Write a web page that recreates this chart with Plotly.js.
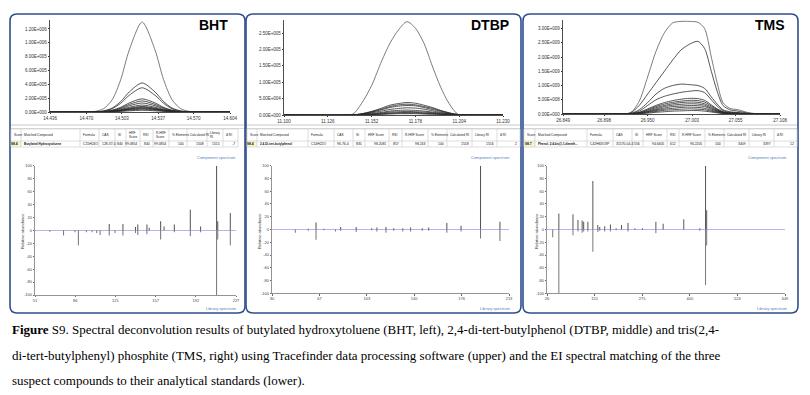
<!DOCTYPE html>
<html><head><meta charset="utf-8">
<script src="https://cdn.plot.ly/plotly-3.0.1.min.js"></script>
<style>html,body{margin:0;padding:0;background:#fff;}#chart{width:810px;height:395px;}</style>
</head><body><div id="chart"></div>
<script>
// ================= DATA =================
// --- BHT chromatogram (intensity in units of 1E5) ---
const bhtTime = [14.436,14.470,14.478,14.486,14.494,14.502,14.510,14.522,14.534,14.542,14.550,14.558,14.566,14.575,14.604];
const bhtIon1  = [0,0,0.09,0.48,1.76,4.68,8.97,13.0,8.97,4.68,1.76,0.48,0.09,0,0];
const bhtIon2  = [0,0,0.03,0.16,0.57,1.51,2.90,4.2,2.90,1.51,0.57,0.16,0.03,0,0];
const bhtIon3  = [0,0,0.02,0.13,0.47,1.26,2.42,3.5,2.42,1.26,0.47,0.13,0.02,0,0];
const bhtIon4  = [0,0,0.01,0.07,0.26,0.68,1.31,1.9,1.31,0.68,0.26,0.07,0.01,0,0];
const bhtIon5  = [0,0,0.01,0.06,0.22,0.58,1.10,1.6,1.10,0.58,0.22,0.06,0.01,0,0];
const bhtIon6  = [0,0,0.01,0.05,0.18,0.47,0.90,1.3,0.90,0.47,0.18,0.05,0.01,0,0];
const bhtIon7  = [0,0,0.01,0.04,0.14,0.36,0.69,1.0,0.69,0.36,0.14,0.04,0.01,0,0];
const bhtIon8  = [0,0,0.01,0.03,0.11,0.29,0.55,0.8,0.55,0.29,0.11,0.03,0.01,0,0];
const bhtIon9  = [0,0,0.01,0.03,0.10,0.25,0.48,0.7,0.48,0.25,0.10,0.03,0.01,0,0];
const bhtIon10 = [0,0,0,0.02,0.08,0.22,0.41,0.6,0.41,0.22,0.08,0.02,0,0,0];
const bhtIon11 = [0,0,0,0.02,0.07,0.18,0.35,0.5,0.35,0.18,0.07,0.02,0,0,0];
const bhtIon12 = [0,0,0,0.01,0.05,0.14,0.28,0.4,0.28,0.14,0.05,0.01,0,0,0];
const bhtIon13 = [0,0,0,0.01,0.03,0.09,0.17,0.25,0.17,0.09,0.03,0.01,0,0,0];
const bhtIons = [bhtIon1,bhtIon2,bhtIon3,bhtIon4,bhtIon5,bhtIon6,bhtIon7,bhtIon8,bhtIon9,bhtIon10,bhtIon11,bhtIon12,bhtIon13];
const bhtYTickVals = [0,2,4,6,8,10,12];
const bhtYTickText = ["0.00E+000","2.00E+005","4.00E+005","6.00E+005","8.00E+005","1.00E+006","1.20E+006"];
const bhtXTickVals = [14.436,14.470,14.503,14.537,14.570,14.604];
const bhtXTickText = ["14.436","14.470","14.503","14.537","14.570","14.604"];

// --- DTBP chromatogram (units of 1E5) ---
const dtbpTime = [11.100,11.140,11.146,11.152,11.158,11.163,11.168,11.173,11.178,11.183,11.188,11.193,11.198,11.204,11.230];
const dtbpIon1 = [0,0,0.35,0.9,1.65,2.2,2.6,2.85,2.65,2.2,1.5,0.85,0.35,0,0];
const dtbpIon2 = [0,0,0.04,0.11,0.21,0.30,0.35,0.38,0.36,0.30,0.23,0.14,0.07,0.01,0];
const dtbpIon3 = [0,0,0.03,0.10,0.18,0.26,0.31,0.33,0.31,0.26,0.20,0.13,0.06,0.01,0];
const dtbpIon4 = [0,0,0.03,0.09,0.16,0.23,0.27,0.29,0.28,0.23,0.17,0.11,0.05,0.01,0];
const dtbpIon5 = [0,0,0.02,0.07,0.12,0.17,0.20,0.22,0.21,0.18,0.13,0.08,0.04,0.01,0];
const dtbpIon6 = [0,0,0.02,0.05,0.08,0.12,0.14,0.15,0.14,0.12,0.09,0.06,0.03,0,0];
const dtbpIon7 = [0,0,0.01,0.03,0.06,0.09,0.10,0.11,0.10,0.09,0.07,0.04,0.02,0,0];
const dtbpIon8 = [0,0,0.01,0.02,0.04,0.06,0.07,0.08,0.08,0.06,0.05,0.03,0.01,0,0];
const dtbpIon9 = [0,0,0.01,0.02,0.03,0.05,0.06,0.06,0.06,0.05,0.04,0.02,0.01,0,0];
const dtbpIon10= [0,0,0,0.01,0.02,0.03,0.04,0.04,0.04,0.03,0.02,0.02,0.01,0,0];
const dtbpIons = [dtbpIon1,dtbpIon2,dtbpIon3,dtbpIon4,dtbpIon5,dtbpIon6,dtbpIon7,dtbpIon8,dtbpIon9,dtbpIon10];
const dtbpYTickVals = [0,0.5,1,1.5,2,2.5];
const dtbpYTickText = ["0.00E+000","5.00E+004","1.00E+005","1.50E+005","2.00E+005","2.50E+005"];
const dtbpXTickVals = [11.100,11.126,11.152,11.178,11.204,11.230];
const dtbpXTickText = ["11.100","11.126","11.152","11.178","11.204","11.230"];

// --- TMS chromatogram (units of 1E9) ---
const tmsTime = [26.849,26.920,26.930,26.940,26.950,26.960,26.970,26.980,26.990,27.000,27.010,27.018,27.026,27.033,27.040,27.048,27.058,27.070,27.085,27.108];
const tmsIon1 = [0,0,0.05,0.45,1.3,2.2,2.85,3.2,3.25,3.25,3.22,3.0,2.0,1.1,0.4,0.2,0.15,0.05,0,0];
const tmsIon2 = [0,0,0.05,0.3,0.7,1.1,1.5,1.9,2.25,2.45,2.55,2.3,1.5,0.8,0.3,0.15,0.1,0.03,0,0];
const tmsIon3 = [0,0,0.02,0.15,0.4,0.7,0.9,1.0,1.05,1.03,1.0,0.9,0.6,0.35,0.15,0.08,0.05,0.01,0,0];
const tmsIon4 = [0,0,0.02,0.1,0.3,0.5,0.62,0.7,0.76,0.8,0.82,0.75,0.5,0.28,0.12,0.06,0.04,0.01,0,0];
const tmsIon5 = [0,0,0.01,0.06,0.18,0.3,0.4,0.47,0.52,0.55,0.54,0.48,0.32,0.18,0.08,0.04,0.02,0.01,0,0];
const tmsIon6 = [0,0,0.01,0.05,0.15,0.26,0.35,0.41,0.45,0.48,0.47,0.42,0.28,0.16,0.07,0.03,0.02,0,0,0];
const tmsIon7 = [0,0,0.01,0.04,0.13,0.22,0.3,0.36,0.4,0.42,0.41,0.36,0.24,0.14,0.06,0.03,0.02,0,0,0];
const tmsIon8 = [0,0,0.01,0.03,0.1,0.18,0.26,0.31,0.34,0.36,0.35,0.31,0.2,0.12,0.05,0.02,0.01,0,0,0];
const tmsIon9 = [0,0,0,0.03,0.08,0.15,0.21,0.26,0.28,0.3,0.29,0.26,0.17,0.1,0.04,0.02,0.01,0,0,0];
const tmsIon10= [0,0,0,0.02,0.07,0.12,0.17,0.2,0.23,0.24,0.23,0.2,0.13,0.08,0.03,0.02,0.01,0,0,0];
const tmsIon11= [0,0,0,0.02,0.05,0.09,0.13,0.15,0.17,0.18,0.17,0.15,0.1,0.06,0.02,0.01,0,0,0,0];
const tmsIon12= [0,0,0,0.01,0.03,0.06,0.08,0.1,0.11,0.12,0.12,0.1,0.07,0.04,0.02,0.01,0,0,0,0];
const tmsIons = [tmsIon1,tmsIon2,tmsIon3,tmsIon4,tmsIon5,tmsIon6,tmsIon7,tmsIon8,tmsIon9,tmsIon10,tmsIon11,tmsIon12];
const tmsYTickVals = [0,0.5,1,1.5,2,2.5,3];
const tmsYTickText = ["0.00E+000","5.00E+008","1.00E+009","1.50E+009","2.00E+009","2.50E+009","3.00E+009"];
const tmsXTickVals = [26.849,26.898,26.950,27.003,27.055,27.108];
const tmsXTickText = ["26.849","26.898","26.950","27.003","27.055","27.108"];

// --- EI spectra: component (up) and library (down), relative abundance % ---
const bhtMz        = [64,76,86,89,96,101,105,108,116,121,128,139,141,149,151,161,164,173,187,196,210,211,222];
const bhtComponent = [0,0,0,0,0,0,0,0,10,0,10,5,9,9,4,14,6,9,32,6,100,14,27];
const bhtLibrary   = [-2,-8,-3,-23,-3,-3,-4,-7,-8,-4,-8,-4,-7,-6,0,-14,0,-3,-9,-3,-100,-14,-23];
const bhtMzTicks   = [51,86.2,121.4,156.6,191.8,227];
const bhtMzLabels  = ["51","86","121","157","192","227"];

const dtbpMz        = [48,58,64,70,79,83,95,107,111,118,124,131,137,146,151,165,176,191,206];
const dtbpComponent = [0,1,11,1,0,4,4,2,3,4,2,2,3,2,3,10,6,100,12];
const dtbpLibrary   = [-5,-2,-16,-1,-3,-2,-4,-1,-3,-5,-2,-3,-3,-2,-2,-5,-3,-14,-18];
const dtbpMzTicks   = [30,66.6,103.2,139.8,176.4,213];
const dtbpMzLabels  = ["30","67","103","140","176","213"];

const tmsMz        = [41,57,94,107,118,122,133,146,159,164,177,192,207,221,238,256,276,311,330,384,426,441,444];
const tmsComponent = [0,25,24,15,14,12,12,76,7,4,5,8,2,7,10,2,2,12,9,16,2,100,30];
const tmsLibrary   = [-12,-100,-9,-3,-5,-3,-3,-35,-4,-2,-3,-3,-1,0,-3,0,0,-6,0,0,-2,-87,-25];
const tmsMzTicks   = [26,150.6,275.2,399.8,524.4,649];
const tmsMzLabels  = ["26","151","275","400","524","649"];

const relTicks  = [-100,-80,-60,-40,-20,0,20,40,60,80,100];
const relLabels = ["-100","-80","-60","-40","-20","0","20","40","60","80","100"];

// --- tables ---
const tableHeadersWide = ["Score","Matched Compound","Formula","CAS","SI","HRF Score","RSI","R.HRF Score","% Elements","Calculated RI","Library RI","\u0394 RI"];
const tableHeadersBht  = ["Score","Matched Compound","Formula","CAS","SI","HRF<br>Score","RSI","R.HRF<br>Score","% Elements","Calculated RI","Library<br>RI","\u0394 RI"];
const bhtRow  = ["98.4","Butylated Hydroxytoluene","C15H24O","128-37-0","840","99.0854","840","99.0854","100","1508","1515","-7"];
const dtbpRow = ["98.4","2,4-Di-tert-butylphenol","C14H22O","96-76-4","835","98.2081","857","98.243","100","1518","1516","2"];
const tmsRow  = ["98.7","Phenol, 2,4-bis(1,1-dimeth...","C42H63O3P","31570-04-4","556","94.6405","612","96.2205","100","3409","3397","12"];

const panelNames = ["BHT","DTBP","TMS"];
const captionLines = [
  "<b>Figure</b> S9. Spectral deconvolution results of butylated hydroxytoluene (BHT, left), 2,4-di-tert-butylphenol (DTBP, middle) and tris(2,4-",
  "di-tert-butylphenyl) phosphite (TMS, right) using Tracefinder data processing software (upper) and the EI spectral matching of the three",
  "suspect compounds to their analytical standards (lower)."
];

// ================= LAYOUT HELPERS =================
const W = 810, H = 395;
const fx = p => p / W;
const fy = p => 1 - p / H;
const FONT = "Liberation Sans, Arial, sans-serif";
const traces = [];
const shapes = [];
const annotations = [];

function addChrom(time, ions, ax) {
  ions.forEach((ion, i) => {
    traces.push({
      type: "scatter", mode: "lines", x: time, y: ion,
      xaxis: "x" + ax, yaxis: "y" + ax,
      line: {color: i === 0 ? "#5a5a5a" : "#2a2a2a", width: 0.8, shape: "spline", smoothing: 0.8},
      hoverinfo: "skip", showlegend: false
    });
  });
}
addChrom(bhtTime, bhtIons, "");
addChrom(dtbpTime, dtbpIons, "2");
addChrom(tmsTime, tmsIons, "3");

function addSpec(mz, comp, lib, ax, w) {
  traces.push({type: "bar", x: mz, y: comp, width: w, xaxis: "x" + ax, yaxis: "y" + ax,
    marker: {color: "#555", line: {width: 0}}, showlegend: false, hoverinfo: "skip"});
  traces.push({type: "bar", x: mz, y: lib, width: w, xaxis: "x" + ax, yaxis: "y" + ax,
    marker: {color: "#777", line: {width: 0}}, showlegend: false, hoverinfo: "skip"});
}
addSpec(bhtMz, bhtComponent, bhtLibrary, "4", 0.9);
addSpec(dtbpMz, dtbpComponent, dtbpLibrary, "5", 0.8);
addSpec(tmsMz, tmsComponent, tmsLibrary, "6", 2.6);

const tickFont = {family: FONT, size: 4.5, color: "#333"};
function chromX(x0, x1, range, tv, tt, anchor) {
  return {domain: [fx(x0), fx(x1)], range: range, anchor: anchor, tickvals: tv, ticktext: tt,
    showline: true, linecolor: "#222", linewidth: 0.8, ticks: "outside", ticklen: 1.5, tickcolor: "#333",
    showgrid: false, zeroline: false, tickfont: tickFont, fixedrange: true, tickangle: 0};
}
function chromY(y0, y1, range, tv, tt, anchor) {
  return {domain: [fy(y1), fy(y0)], range: range, anchor: anchor, tickvals: tv, ticktext: tt,
    showline: true, linecolor: "#222", linewidth: 0.8, ticks: "outside", ticklen: 1.5, tickcolor: "#333",
    showgrid: false, zeroline: false, tickfont: tickFont, fixedrange: true};
}
function specX(x0, x1, range, tv, tt, anchor) {
  return {domain: [fx(x0), fx(x1)], range: range, anchor: anchor, tickvals: tv, ticktext: tt,
    showline: true, linecolor: "#666", linewidth: 0.7, ticks: "outside", ticklen: 1.5, tickcolor: "#666",
    showgrid: false, zeroline: false, tickfont: {family: FONT, size: 4, color: "#444"}, fixedrange: true, tickangle: 0};
}
function specY(y0, y1, anchor) {
  return {domain: [fy(y1), fy(y0)], range: [-100, 100], anchor: anchor, tickvals: relTicks, ticktext: relLabels,
    showline: true, linecolor: "#666", linewidth: 0.7, ticks: "outside", ticklen: 1.5, tickcolor: "#666",
    showgrid: false, zeroline: true, zerolinecolor: "#b4b4f0", zerolinewidth: 1,
    tickfont: {family: FONT, size: 4, color: "#444"}, fixedrange: true};
}

// panel borders (rounded)
function roundRect(x0, y0, x1, y1, r) {
  const rx = r / W, ry = r / H;
  const X0 = fx(x0), X1 = fx(x1), Y0 = fy(y0), Y1 = fy(y1);
  return `M ${X0 + rx} ${Y0} L ${X1 - rx} ${Y0} Q ${X1} ${Y0} ${X1} ${Y0 - ry} L ${X1} ${Y1 + ry} Q ${X1} ${Y1} ${X1 - rx} ${Y1} L ${X0 + rx} ${Y1} Q ${X0} ${Y1} ${X0} ${Y1 + ry} L ${X0} ${Y0 - ry} Q ${X0} ${Y0} ${X0 + rx} ${Y0} Z`;
}
const panels = [[10, 245], [246, 521], [523, 798]];
const panelTop = 14, panelBottom = 313;
panels.forEach(p => {
  shapes.push({type: "line", xref: "paper", yref: "paper", x0: fx(p[0] + 1), x1: fx(p[1] - 1), y0: fy(125), y1: fy(125),
    line: {color: "#c8c8c8", width: 1}});
  shapes.push({type: "line", xref: "paper", yref: "paper", x0: fx(p[0] + 1), x1: fx(p[1] - 1), y0: fy(128.5), y1: fy(128.5),
    line: {color: "#d8d8d8", width: 1}});
  shapes.push({type: "path", xref: "paper", yref: "paper", path: roundRect(p[0], panelTop, p[1], panelBottom, 7),
    line: {color: "#2f4f8f", width: 1.6}, fillcolor: "rgba(0,0,0,0)"});
});

// titles
const titlePos = [214, 490, 770];
panelNames.forEach((n, i) => {
  annotations.push({xref: "paper", yref: "paper", x: fx(titlePos[i]), y: fy(25), text: "<b>" + n + "</b>",
    showarrow: false, xanchor: "center", yanchor: "middle", font: {family: FONT, size: 14, color: "#000"}});
});

// tables
const rowTop = 129, rowMid = 141, rowBot = 147;
function drawTable(edges, headers, row) {
  const xl = edges[0], xr = edges[edges.length - 1];
  shapes.push({type: "rect", xref: "paper", yref: "paper", x0: fx(edges[0]), x1: fx(edges[1]), y0: fy(rowBot), y1: fy(rowMid),
    fillcolor: "#fbf5c4", line: {width: 0}});
  [rowTop, rowMid, rowBot].forEach(y => shapes.push({type: "line", xref: "paper", yref: "paper",
    x0: fx(xl), x1: fx(xr), y0: fy(y), y1: fy(y), line: {color: "#cfcfcf", width: 0.7}}));
  edges.forEach(e => shapes.push({type: "line", xref: "paper", yref: "paper",
    x0: fx(e), x1: fx(e), y0: fy(rowTop), y1: fy(rowBot), line: {color: "#cfcfcf", width: 0.7}}));
  headers.forEach((h, i) => {
    if (i + 1 >= edges.length) return;
    annotations.push({xref: "paper", yref: "paper", x: fx(edges[i] + 0.8), y: fy((rowTop + rowMid) / 2), text: h,
      showarrow: false, xanchor: "left", yanchor: "middle", align: "left",
      font: {family: FONT, size: 3.2, color: "#222"}});
  });
  row.forEach((v, i) => {
    if (i + 1 >= edges.length) return;
    const leftAligned = (i === 1 || i === 2 || i === 3);
    annotations.push({xref: "paper", yref: "paper", x: leftAligned ? fx(edges[i] + 0.8) : fx(edges[i + 1] - 0.8),
      y: fy((rowMid + rowBot) / 2), text: i <= 1 ? "<b>" + v + "</b>" : v,
      showarrow: false, xanchor: leftAligned ? "left" : "right", yanchor: "middle",
      font: {family: FONT, size: i === 1 ? 3.0 : 3.4, color: "#111"}});
  });
}
drawTable([11, 21, 80, 99, 115, 126, 140, 153, 169, 187, 207, 223, 238], tableHeadersBht, bhtRow);
drawTable([247, 257, 308, 334, 353, 365, 389, 402, 428, 447, 472, 497, 520], tableHeadersWide, dtbpRow);
drawTable([524, 535, 587, 613, 632, 643, 667, 679, 705, 724, 749, 774, 797], tableHeadersWide, tmsRow);

// spectrum labels
const compLabelX = [238, 512, 789];
const yTitleX = [22, 259, 536];
compLabelX.forEach((x, i) => {
  annotations.push({xref: "paper", yref: "paper", x: fx(x), y: fy(157), text: "Component spectrum", showarrow: false,
    xanchor: "right", yanchor: "middle", font: {family: FONT, size: 4, color: "#4f81bd"}});
  annotations.push({xref: "paper", yref: "paper", x: fx(x), y: fy(308), text: "Library spectrum", showarrow: false,
    xanchor: "right", yanchor: "middle", font: {family: FONT, size: 4, color: "#4f81bd"}});
  annotations.push({xref: "paper", yref: "paper", x: fx(yTitleX[i]), y: fy(231), text: "Relative abundance", showarrow: false,
    textangle: -90, xanchor: "center", yanchor: "middle", font: {family: FONT, size: 4, color: "#333"}});
});

// caption
const captionY = [329, 355, 380];
captionLines.forEach((t, i) => {
  annotations.push({xref: "paper", yref: "paper", x: fx(10), y: fy(captionY[i]), text: t, showarrow: false,
    xanchor: "left", yanchor: "middle", align: "left",
    font: {family: "Liberation Serif, Times New Roman, serif", size: 13, color: "#000"}});
});

const layout = {
  width: W, height: H, margin: {l: 0, r: 0, t: 0, b: 0}, paper_bgcolor: "#fff", plot_bgcolor: "rgba(0,0,0,0)",
  showlegend: false, barmode: "overlay",
  xaxis:  chromX(50, 230, [14.436, 14.604], bhtXTickVals, bhtXTickText, "y"),
  yaxis:  chromY(20, 112, [0, 13.3], bhtYTickVals, bhtYTickText, "x"),
  xaxis2: chromX(284, 503, [11.100, 11.230], dtbpXTickVals, dtbpXTickText, "y2"),
  yaxis2: chromY(20, 115, [0, 2.9], dtbpYTickVals, dtbpYTickText, "x2"),
  xaxis3: chromX(563, 780, [26.849, 27.108], tmsXTickVals, tmsXTickText, "y3"),
  yaxis3: chromY(20, 114, [0, 3.3], tmsYTickVals, tmsYTickText, "x3"),
  xaxis4: specX(35, 236, [51, 227], bhtMzTicks, bhtMzLabels, "y4"),
  yaxis4: specY(165.7, 295, "x4"),
  xaxis5: specX(272, 509, [30, 213], dtbpMzTicks, dtbpMzLabels, "y5"),
  yaxis5: specY(165.7, 293.3, "x5"),
  xaxis6: specX(547, 785, [26, 649], tmsMzTicks, tmsMzLabels, "y6"),
  yaxis6: specY(165.7, 293.3, "x6"),
  shapes: shapes, annotations: annotations
};
Plotly.newPlot("chart", traces, layout, {staticPlot: true, displayModeBar: false});
</script></body></html>
